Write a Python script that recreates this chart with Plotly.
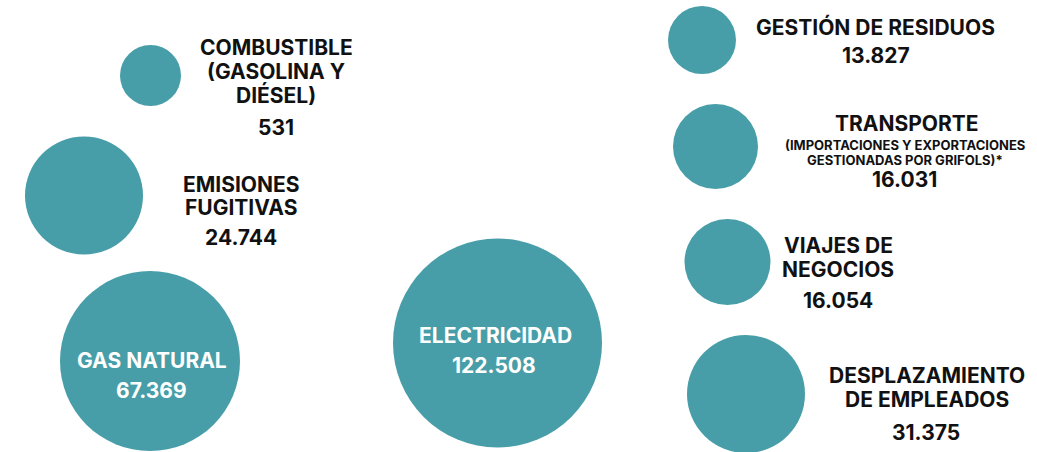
import plotly.graph_objects as go

# Emission sources (label lines) and their values (t CO2e)
categories = [
    "COMBUSTIBLE<br>(GASOLINA Y<br>DIÉSEL)",
    "EMISIONES<br>FUGITIVAS",
    "GAS NATURAL",
    "ELECTRICIDAD",
    "GESTIÓN DE RESIDUOS",
    "TRANSPORTE",
    "VIAJES DE<br>NEGOCIOS",
    "DESPLAZAMIENTO<br>DE EMPLEADOS",
]
values = [531, 24744, 67369, 122508, 13827, 16031, 16054, 31375]
notes = ["", "", "", "", "", "(IMPORTACIONES Y EXPORTACIONES<br>GESTIONADAS POR GRIFOLS)*", "", ""]

# Layout of the bubble map (pixel space, y grows downwards)
bubble_x = [150.5, 84, 150, 497.5, 702, 715.5, 727.5, 746]
bubble_y = [75.5, 195.5, 361, 343, 40, 146.5, 262, 394]
bubble_r = [30.5, 59, 90, 104.5, 34, 42.5, 43, 59]
inside = [False, False, True, True, False, False, False, False]
# label anchor: x center, y center of first line, y center of value
label_x = [276, 241, 152, 495, 875, 907, 838, 927]
label_y = [47.5, 184, 360, 335.5, 27, 123, 245.5, 375.5]
value_y = [127.5, 237.5, 390, 365.5, 55.5, 179, 300.5, 432.5]
value_x = [276, 240.5, 151.5, 494, 875.5, 904, 838, 925.5]

TEAL = "#479EA8"
DARK = "#111111"
FONT = "Inter"
W, H = 1037, 452
LINE = 23.5

def fmt(v):
    return f"{v:,}".replace(",", ".")

fig = go.Figure()
fig.add_trace(go.Scatter(
    x=bubble_x, y=bubble_y, mode="markers",
    marker=dict(size=[2 * r for r in bubble_r], color=TEAL, line=dict(width=0), opacity=1),
    hoverinfo="skip", showlegend=False,
))

annotations = []
for i, cat in enumerate(categories):
    color = "white" if inside[i] else DARK
    lines = cat.split("<br>")
    for k, line in enumerate(lines):
        annotations.append(dict(
            x=label_x[i], y=label_y[i] + k * LINE, text=line, showarrow=False,
            xanchor="center", yanchor="middle",
            font=dict(family=FONT, size=21, color=color, weight=700),
        ))
    if notes[i]:
        for k, line in enumerate(notes[i].split("<br>")):
            annotations.append(dict(
                x=905, y=144.5 + k * 15.5, text=line, showarrow=False,
                xanchor="center", yanchor="middle",
                font=dict(family=FONT, size=13, color=DARK, weight=700),
            ))
    annotations.append(dict(
        x=value_x[i], y=value_y[i], text=fmt(values[i]), showarrow=False,
        xanchor="center", yanchor="middle",
        font=dict(family=FONT, size=21, color=color, weight=700),
    ))

fig.update_layout(
    width=W, height=H,
    margin=dict(l=0, r=0, t=0, b=0),
    paper_bgcolor="white", plot_bgcolor="white",
    xaxis=dict(range=[0, W], visible=False, fixedrange=True),
    yaxis=dict(range=[H, 0], visible=False, fixedrange=True),
    annotations=annotations,
)

fig.write_html("out.html", config={"displayModeBar": False})
